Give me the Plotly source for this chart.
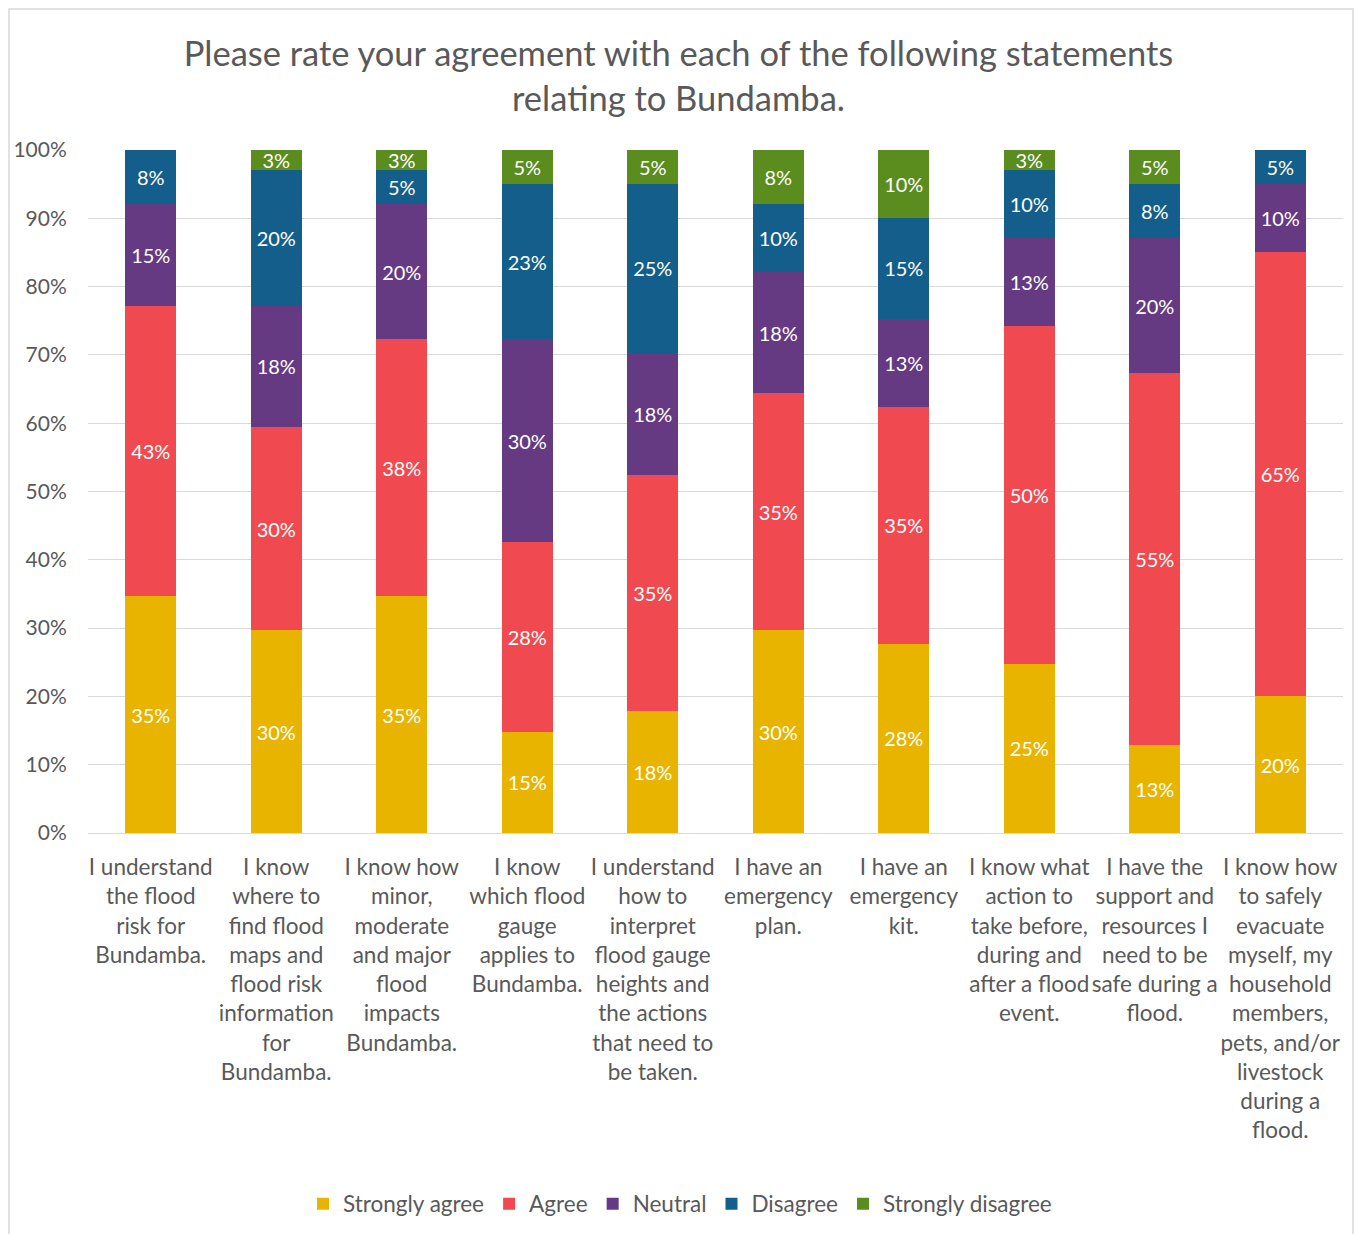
import plotly.graph_objects as go

# Survey statements (category labels, wrapped)
statements = [
    "I understand<br>the flood<br>risk for<br>Bundamba.",
    "I know<br>where to<br>find flood<br>maps and<br>flood risk<br>information<br>for<br>Bundamba.",
    "I know how<br>minor,<br>moderate<br>and major<br>flood<br>impacts<br>Bundamba.",
    "I know<br>which flood<br>gauge<br>applies to<br>Bundamba.",
    "I understand<br>how to<br>interpret<br>flood gauge<br>heights and<br>the actions<br>that need to<br>be taken.",
    "I have an<br>emergency<br>plan.",
    "I have an<br>emergency<br>kit.",
    "I know what<br>action to<br>take before,<br>during and<br>after a flood<br>event.",
    "I have the<br>support and<br>resources I<br>need to be<br>safe during a<br>flood.",
    "I know how<br>to safely<br>evacuate<br>myself, my<br>household<br>members,<br>pets, and/or<br>livestock<br>during a<br>flood.",
]

# Response shares (%) per statement
strongly_agree = [35, 30, 35, 15, 18, 30, 28, 25, 13, 20]
agree = [43, 30, 38, 28, 35, 35, 35, 50, 55, 65]
neutral = [15, 18, 20, 30, 18, 18, 13, 13, 20, 10]
disagree = [8, 20, 5, 23, 25, 10, 15, 10, 8, 5]
strongly_disagree = [0, 3, 3, 5, 5, 8, 10, 3, 5, 0]

series = [
    ("Strongly agree", strongly_agree, "#E8B400"),
    ("Agree", agree, "#F04A50"),
    ("Neutral", neutral, "#663A82"),
    ("Disagree", disagree, "#135E8A"),
    ("Strongly disagree", strongly_disagree, "#5B8C1E"),
]

FONT = "Lato"
GREY = "#595959"

fig = go.Figure()
for name, vals, color in series:
    labels = [f"{v}%" if v > 0 else "" for v in vals]
    fig.add_trace(go.Bar(
        name=name,
        x=statements,
        y=vals,
        marker=dict(color=color, line=dict(width=0)),
        text=labels,
        texttemplate="%{text}",
        textposition="inside",
        insidetextanchor="middle",
        textangle=0,
        constraintext="none",
        textfont=dict(color="white", size=20, family=FONT),
        hoverinfo="skip",
    ))

# Plot area in pixels, used to place the outer frame
W, H = 1357, 1234
L, R, T, B = 88, 14, 150, 401
pw, ph = W - L - R, H - T - B

def px_x(x):
    return (x - L) / pw

def px_y(y):
    return (H - B - y) / ph

fig.update_layout(
    width=W,
    height=H,
    barmode="stack",
    barnorm="percent",
    bargap=0.59,
    paper_bgcolor="white",
    plot_bgcolor="white",
    margin=dict(l=L, r=R, t=T, b=B, autoexpand=False),
    font=dict(family=FONT, color=GREY),
    uniformtext=dict(minsize=20, mode="show"),
    title=dict(
        text="Please rate your agreement with each of the following statements<br>relating to Bundamba.",
        x=0.5,
        xanchor="center",
        xref="container",
        y=1 - 66 / H,
        yanchor="middle",
        font=dict(size=34.5, color=GREY, family=FONT),
    ),
    legend=dict(
        orientation="h",
        x=px_x(680),
        xanchor="center",
        y=px_y(1204),
        yanchor="middle",
        font=dict(size=22.5, color=GREY, family=FONT),
        traceorder="normal",
        itemwidth=30,
        itemsizing="constant",
    ),
    xaxis=dict(
        type="category",
        tickfont=dict(size=22.5, color=GREY, family=FONT),
        showline=True,
        linecolor="#D9D9D9",
        linewidth=1,
        ticks="outside",
        ticklen=14,
        tickcolor="rgba(0,0,0,0)",
        showgrid=False,
    ),
    yaxis=dict(
        range=[0, 100],
        tickvals=list(range(0, 101, 10)),
        ticktext=[f"{v}%" for v in range(0, 101, 10)],
        tickfont=dict(size=21, color=GREY, family=FONT),
        showgrid=True,
        gridcolor="#D9D9D9",
        gridwidth=1,
        zeroline=False,
        ticks="outside",
        ticklen=16,
        tickcolor="rgba(0,0,0,0)",
        showline=False,
    ),
    shapes=[
        dict(
            type="rect",
            xref="paper",
            yref="paper",
            x0=px_x(9),
            x1=px_x(1353),
            y0=px_y(1240),
            y1=px_y(9),
            line=dict(color="#D9D9D9", width=1.5),
            fillcolor="rgba(0,0,0,0)",
            layer="below",
        )
    ],
)

fig.write_html("out.html")
